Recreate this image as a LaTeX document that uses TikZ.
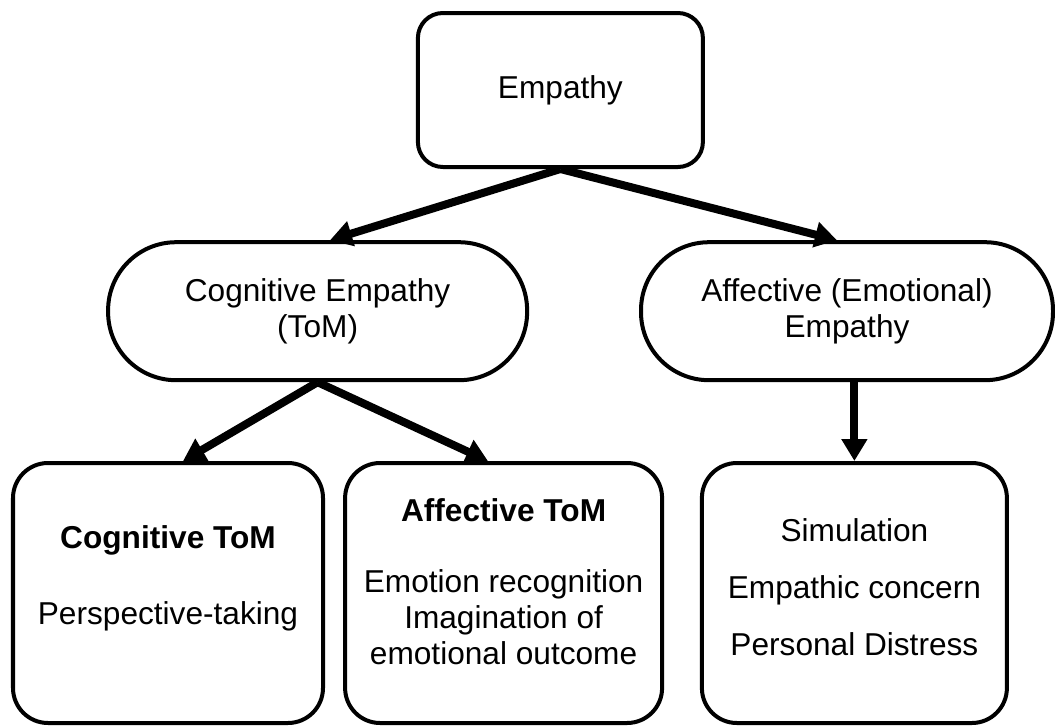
\documentclass[tikz,border=0pt]{standalone}
\usepackage{fontspec}
\setmainfont{Liberation Sans}
\usetikzlibrary{arrows.meta}

\begin{document}
\begin{tikzpicture}[
  font=\fontsize{22.5}{25.6}\selectfont,
  box/.style={draw, line width=0.1cm, rounded corners=0.875cm, align=center, inner sep=0pt, minimum height=6.5cm},
  pill/.style={draw, line width=0.1cm, rounded corners=1.7cm, align=center, inner sep=0pt, minimum height=3.45cm},
  arr/.style={line width=0.2cm, -{Triangle[length=0.55cm, width=0.62cm]}}
]

\useasboundingbox (0,0) rectangle (26.375,-18.15);

% Top box
\node[box, rounded corners=0.625cm, minimum width=7.125cm, minimum height=3.85cm] (empathy) at (14.01,-2.25) {Empathy};

% Second row
\node[pill, minimum width=10.475cm] (cogemp) at (7.94,-7.78) {Cognitive Empathy\\(ToM)};
\node[pill, minimum width=10.3cm] (affemp) at (21.175,-7.78) {Affective (Emotional)\\Empathy};

% Bottom row
\node[box, minimum width=7.75cm] (cogtom) at (4.2,-14.825)
  {\textbf{Cognitive ToM}\\[1cm]Perspective-taking\\\mbox{}};
\node[box, minimum width=7.925cm] (afftom) at (12.59,-14.825)
  {\textbf{Affective ToM}\\[0.875cm]Emotion recognition\\Imagination of\\emotional outcome\\[-0.35cm]\mbox{}};
\node[box, minimum width=7.625cm] (affparts) at (21.36,-14.825)
  {Simulation\\[0.525cm]Empathic concern\\[0.525cm]Personal Distress\\[-0.6cm]\mbox{}};

% Arrows
\draw[arr] (empathy.south) -- ([xshift=0.31cm]cogemp.north);
\draw[arr] (empathy.south) -- ([xshift=-0.25cm]affemp.north);
\draw[arr] (cogemp.south) -- ([xshift=0.375cm]cogtom.north);
\draw[arr] (cogemp.south) -- ([xshift=-0.39cm]afftom.north);
\draw[arr] (affemp.south -| affparts.north) -- (affparts.north);

\end{tikzpicture}
\end{document}
